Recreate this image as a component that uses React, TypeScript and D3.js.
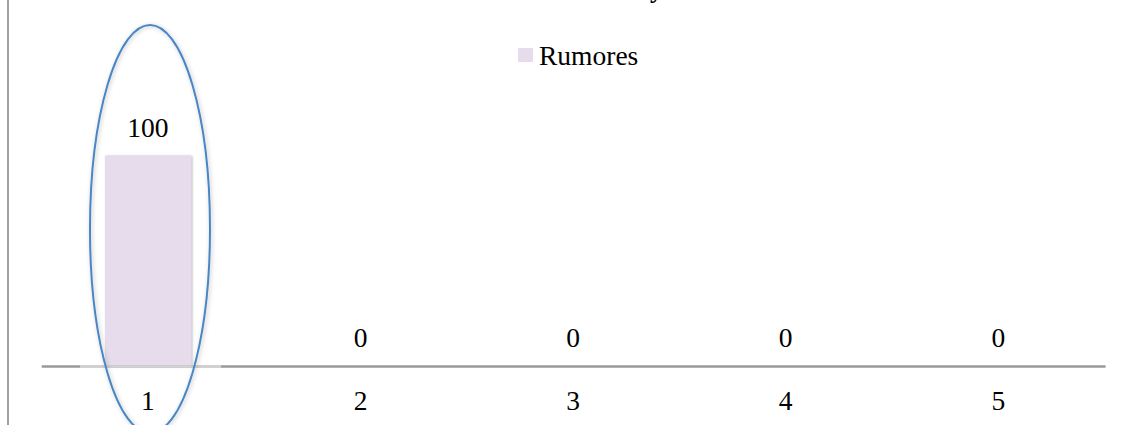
import React from "react";
import * as d3 from "d3";

const categories = ["1", "2", "3", "4", "5"];
const rumores = [100, 0, 0, 0, 0];
const seriesName = "Rumores";
const titleText = "Frecuencia y";

const W = 1130;
const H = 425;
const FONT = "'Liberation Serif', 'DejaVu Serif', serif";
const FS = 27.5;
const BAR = "#e6dcec";

export default function App() {
  const x = d3
    .scaleBand<string>()
    .domain(categories)
    .range([41.7, 1104.6])
    .paddingInner(0.595)
    .paddingOuter(0.2975);
  const y = d3.scaleLinear().domain([0, 100]).range([366.5, 156]);
  const y0 = y(0);

  const c1 = (x("1") as number) + x.bandwidth() / 2;

  return (
    <svg
      width={W}
      height={H}
      style={{ position: "absolute", left: 0, top: 0, background: "#fff" }}
    >
      <defs>
        <filter id="barShadow" x="-20%" y="-10%" width="140%" height="120%">
          <feDropShadow dx="1.2" dy="0" stdDeviation="1.2" floodColor="#000" floodOpacity="0.3" />
        </filter>
        <filter id="ellShadow" x="-30%" y="-10%" width="160%" height="120%">
          <feDropShadow dx="1" dy="1" stdDeviation="2" floodColor="#000" floodOpacity="0.25" />
        </filter>
      </defs>

      <text
        x={663}
        y={-2.5}
        textAnchor="end"
        fontFamily={FONT}
        fontSize={26}
        fontWeight="bold"
        fill="#000"
      >
        {titleText}
      </text>

      {/* left border */}
      <line x1={8} x2={8} y1={0} y2={H} stroke="#a0a0a0" strokeWidth={2} />

      {/* bars */}
      {categories.map((c, i) =>
        rumores[i] > 0 ? (
          <rect
            key={c}
            x={x(c)}
            y={y(rumores[i])}
            width={x.bandwidth()}
            height={y0 - y(rumores[i])}
            fill={BAR}
            filter="url(#barShadow)"
          />
        ) : null
      )}

      {/* axis line */}
      <line x1={41.7} x2={1105.6} y1={y0} y2={y0} stroke="#999" strokeWidth={2.5} />
      <line
        x1={80}
        x2={221}
        y1={y0}
        y2={y0}
        stroke="#fff"
        strokeOpacity={0.55}
        strokeWidth={2.5}
      />

      {/* value labels */}
      {categories.map((c, i) => (
        <text
          key={"v" + c}
          x={(x(c) as number) + x.bandwidth() / 2}
          y={y(rumores[i]) - 19.5}
          textAnchor="middle"
          fontFamily={FONT}
          fontSize={FS}
          fill="#000"
        >
          {rumores[i]}
        </text>
      ))}

      {/* category labels */}
      {categories.map((c) => (
        <text
          key={"c" + c}
          x={(x(c) as number) + x.bandwidth() / 2}
          y={410}
          textAnchor="middle"
          fontFamily={FONT}
          fontSize={FS}
          fill="#000"
        >
          {c}
        </text>
      ))}

      {/* legend */}
      <rect x={518} y={48} width={15} height={14} fill={BAR} />
      <text x={539} y={65} fontFamily={FONT} fontSize={FS} fill="#000">
        {seriesName}
      </text>

      {/* highlight ellipse */}
      <ellipse
        cx={c1 + 2}
        cy={229}
        rx={60}
        ry={204}
        fill="none"
        stroke="#4a86c6"
        strokeWidth={2}
        filter="url(#ellShadow)"
      />
    </svg>
  );
}
